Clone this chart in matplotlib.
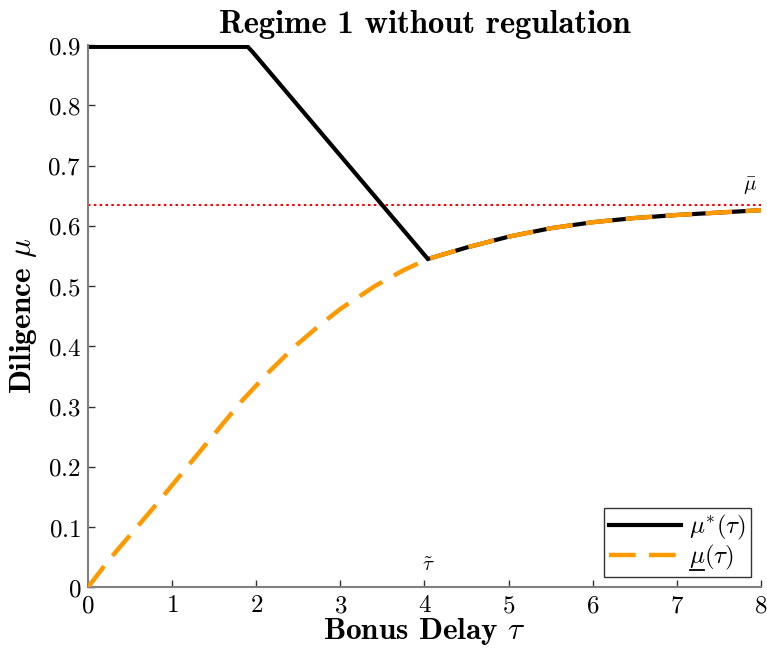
import numpy as np
import matplotlib
matplotlib.use("Agg")
import matplotlib.pyplot as plt
from matplotlib.ticker import FuncFormatter
from matplotlib.lines import Line2D

plt.rcParams['mathtext.fontset'] = 'cm'
plt.rcParams['font.family'] = 'serif'

# ── Data ──────────────────────────────────────────────────────────
tau_star = [0.0, 1.0, 1.90, 1.96, 4.04,
            4.5, 5.0, 5.5, 6.0, 6.5, 7.0, 7.5, 8.0]
mu_star = [0.897, 0.897, 0.897, 0.888, 0.545,
           0.564, 0.582, 0.596, 0.606, 0.613, 0.618, 0.622, 0.626]

tau_low = [0.0, 0.24, 0.79, 1.31, 1.82, 2.14, 2.46, 2.77, 3.01, 3.41, 3.76, 4.04,
           4.5, 5.0, 5.5, 6.0, 6.5, 7.0, 7.5, 8.0]
mu_low = [0.0, 0.044, 0.134, 0.222, 0.308, 0.356, 0.400, 0.437, 0.463, 0.500, 0.527, 0.545,
          0.564, 0.582, 0.596, 0.606, 0.613, 0.618, 0.622, 0.626]

mu_bar = 0.634
tau_tilde = 4.05

xticks = [0, 1, 2, 3, 4, 5, 6, 7, 8]
yticks = [0, 0.1, 0.2, 0.3, 0.4, 0.5, 0.6, 0.7, 0.8, 0.9]

ORANGE = "#ff9900"
SPINE = "#7f7f7f"
BOLD = "cmb10"

fig = plt.figure(figsize=(7.67, 6.53), dpi=100)
ax = fig.add_axes([0.1147, 0.1005, 0.8775, 0.8305])

ax.axhline(mu_bar, color="red", linestyle=(0, (1.2, 1.6)), linewidth=1.5, zorder=1)
ax.plot(tau_star, mu_star, color="black", linewidth=3, solid_joinstyle="miter",
        label=r"$\mu^{*}(\tau)$", zorder=2)
ax.plot(tau_low, mu_low, color=ORANGE, linewidth=3.2, dashes=(6, 3),
        label=r"$\mu(\tau)$", zorder=3)

ax.text(tau_tilde, 0.036, r"$\tilde{\tau}$", fontsize=15, ha="center", va="center")
ax.text(7.87, 0.665, r"$\bar{\mu}$", fontsize=15, ha="center", va="center")

ax.set_xlim(0, 8)
ax.set_ylim(0, 0.9)
ax.set_xticks(xticks)
ax.set_yticks(yticks)
ax.xaxis.set_major_formatter(FuncFormatter(lambda v, p: f"${v:g}$"))
ax.yaxis.set_major_formatter(FuncFormatter(lambda v, p: f"${v:g}$"))
ax.tick_params(direction="in", length=5, width=1, color="#333333",
               labelsize=18, pad=5)

for side in ("top", "right"):
    ax.spines[side].set_visible(False)
for side in ("left", "bottom"):
    ax.spines[side].set_color(SPINE)
    ax.spines[side].set_linewidth(1.5)

ax.set_xlabel(r"Bonus Delay $\tau$", fontsize=22.5, fontfamily=BOLD, labelpad=-1)
ax.set_ylabel(r"Diligence $\mu$", fontsize=22.5, fontfamily=BOLD, labelpad=6)
ax.set_title("Regime 1 without regulation", fontsize=23.5, fontfamily=BOLD, pad=9)

leg = ax.legend(loc="lower right", fontsize=18, frameon=True, fancybox=False,
                handlelength=2.9, borderpad=0.2, labelspacing=0.05,
                handletextpad=0.3, borderaxespad=0.4)
leg.get_frame().set_edgecolor("black")
leg.get_frame().set_linewidth(1.0)

# underline the mu of the second legend entry (mathtext has no \underline)
fig.canvas.draw()
bb = leg.get_texts()[1].get_window_extent(fig.canvas.get_renderer())
inv = fig.transFigure.inverted()
x0, y0 = inv.transform((bb.x0 + 1, bb.y0 + 2))
x1, _ = inv.transform((bb.x0 + bb.width * 0.33, bb.y0 + 2))
fig.add_artist(Line2D([x0, x1], [y0, y0], color="black", linewidth=1.3,
                      transform=fig.transFigure))

fig.savefig("out.png", dpi=100)
